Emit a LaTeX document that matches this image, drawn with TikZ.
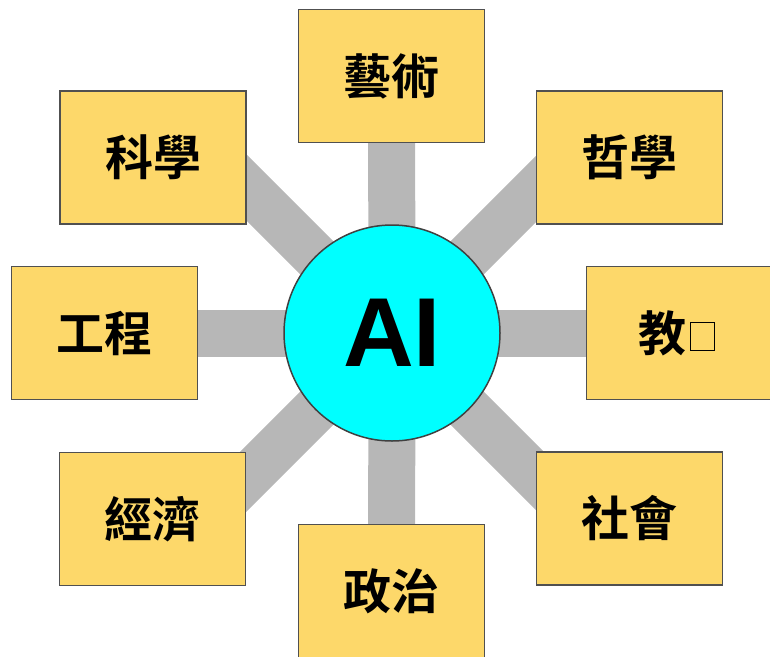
\documentclass[tikz,border=0pt]{standalone}
\usepackage{fontspec}
\setmainfont{Liberation Sans}
\newfontfamily\cjk{Noto Sans CJK TC}[BoldFont={Noto Sans CJK TC Bold}]
\usetikzlibrary{backgrounds}
\definecolor{boxfill}{RGB}{253,216,106}
\definecolor{boxline}{RGB}{80,80,80}
\definecolor{connc}{RGB}{183,183,183}
\definecolor{aifill}{RGB}{0,255,255}
\definecolor{ailine}{RGB}{64,64,64}
\newcommand\tofubox{{\setlength\fboxsep{0pt}\setlength\fboxrule{0.9pt}\raisebox{1pt}{\fbox{\rule{0pt}{27.2pt}\hspace{23.2pt}}}}}
\begin{document}
\begin{tikzpicture}[x=1pt,y=-1pt,
  box/.style={draw=boxline, line width=1.5pt, fill=boxfill, minimum width=186pt, minimum height=133pt, inner sep=0pt, font=\cjk\bfseries\fontsize{48}{48}\selectfont},
  hub/.style={circle, draw=ailine, line width=1.5pt, fill=aifill, minimum size=216pt, inner sep=0pt, font=\bfseries\fontsize{98}{98}\selectfont},
  conn/.style={draw=connc, line width=47pt}]
\useasboundingbox (0,0) rectangle (770,656);
\clip (0,0) rectangle (770,656);
\node[box] (art) at (391.5,76) {藝術};
\node[box] (sci) at (153,157.5) {科學};
\node[box] (phi) at (629.5,157.5) {哲學};
\node[box] (eng) at (104.5,333) {工程};
\node[box] (edu) at (679.5,333) {教\hspace{4pt}\tofubox\hspace*{6pt}};
\node[box] (eco) at (152.5,519) {經濟};
\node[box] (soc) at (629.5,518.5) {社會};
\node[box] (pol) at (391.5,591) {政治};
\node[hub] (ai) at (392,333) {AI};
\coordinate (sciend) at (222,163);
\coordinate (phiend) at (562,163);
\coordinate (ecoend) at (222,503);
\coordinate (socend) at (562,503);
\begin{pgfonlayer}{background}
\foreach \b in {art,eng,edu,pol}
  \draw[conn] (ai.center) -- (\b.center);
\foreach \b in {sciend,phiend,ecoend,socend}
  \draw[conn] (ai.center) -- (\b);
\end{pgfonlayer}
\end{tikzpicture}
\end{document}
